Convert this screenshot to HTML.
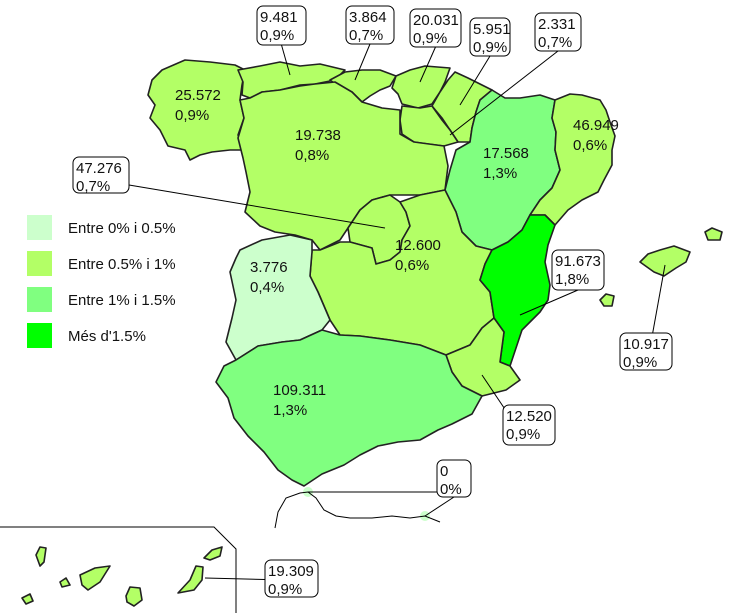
<!DOCTYPE html>
<html><head><meta charset="utf-8"><style>
body{margin:0;background:#fff;}
svg{display:block;font-family:"Liberation Sans",sans-serif;}
.r{stroke:#222;stroke-width:1.6;stroke-linejoin:round;}
.lab{font-size:15px;fill:#111;}
.box{fill:#fff;stroke:#000;stroke-width:1;}
.ld{stroke:#000;stroke-width:1;fill:none;}
</style></head><body>
<svg id="map" width="734" height="613" viewBox="0 0 734 613">
<g id="regions"></g>
<g id="extra"></g>
<g id="labels"></g>
<g id="legend"></g>
</svg>
<script>
const regionNames=["galicia","asturias","cantabria","pais-vasco","navarra","la-rioja","castilla-leon","aragon","catalunya","madrid","castilla-la-mancha","extremadura","valencia","murcia","andalucia","baleares","ceuta-melilla","canarias"];
const regionValues=["25.572","9.481","3.864","20.031","5.951","2.331","19.738","17.568","46.949","47.276","12.600","3.776","91.673","12.520","109.311","10.917","0","19.309"];
const regionPcts=[0.9,0.9,0.7,0.9,0.9,0.7,0.8,1.3,0.6,0.7,0.6,0.4,1.8,0.9,1.3,0.9,0,0.9];
const legendLabels=["Entre 0% i 0.5%","Entre 0.5% i 1%","Entre 1% i 1.5%","Més d'1.5%"];
const legendColors=["#ccffcc","#b3ff66","#80ff80","#00ff00"];
const legendBreaks=[0.5,1,1.5];

function colorFor(p){let i=0;while(i<legendBreaks.length&&p>legendBreaks[i])i++;return legendColors[i];}
const shapes={
"galicia":"148,95 152,80 162,70 185,60 210,62 235,65 245,70 242,85 240,100 244,118 238,135 245,150 230,150 212,152 200,155 190,160 185,150 168,146 160,130 150,118 155,105",
"asturias":"238,70 260,66 280,62 300,66 320,64 345,70 335,80 315,84 300,85 280,90 262,92 250,98 242,95 243,82",
"cantabria":"330,80 345,72 362,70 380,70 396,76 390,86 380,90 370,96 362,102 352,92 338,86",
"pais-vasco":"396,76 410,70 425,66 450,68 445,82 440,92 432,104 418,108 402,104 398,94 392,88",
"navarra":"440,92 448,80 455,72 468,78 480,84 492,90 480,100 476,112 472,128 470,142 458,142 450,130 442,118 432,106",
"la-rioja":"402,106 420,108 432,106 442,120 450,130 458,142 444,146 428,144 414,142 402,134 400,120",
"castilla-leon":"240,100 250,98 262,92 280,90 300,86 315,84 335,82 352,92 362,102 382,108 400,110 400,134 414,142 444,146 448,166 445,190 420,195 390,195 372,200 360,210 348,228 340,240 320,250 312,240 295,235 275,232 260,226 245,212 250,192 246,172 243,158 238,138 244,118",
"aragon":"480,100 492,90 505,98 520,98 540,95 555,100 552,118 556,132 555,150 560,170 552,188 540,200 530,215 522,230 508,242 492,250 476,246 462,232 456,212 445,190 450,170 456,150 470,142 472,128 476,112",
"catalunya":"555,100 570,94 582,95 600,100 606,110 610,122 615,136 612,150 612,165 604,180 598,192 582,200 568,210 555,225 545,215 530,215 540,200 552,188 560,170 555,150 556,132 552,118",
"madrid":"360,210 372,200 390,195 400,202 406,212 410,226 402,240 400,252 390,260 376,264 372,248 350,242 348,228",
"castilla-la-mancha":"312,250 320,250 340,242 350,242 372,248 376,264 390,260 400,252 402,240 410,226 406,212 400,202 420,195 445,190 456,212 462,232 476,246 492,250 485,264 480,280 490,292 494,318 482,328 470,345 446,355 420,345 390,340 360,336 340,335 330,320 318,292 310,276",
"extremadura":"240,250 262,240 290,235 312,240 312,252 310,276 318,292 330,320 322,330 300,340 282,342 258,346 236,360 226,342 232,318 236,300 230,272 236,258",
"valencia":"492,250 508,242 522,230 530,215 545,215 555,225 548,245 545,262 550,285 548,300 540,312 522,330 516,348 510,366 500,362 504,332 494,318 490,292 480,280 485,264",
"murcia":"446,355 470,345 482,328 494,318 504,332 500,362 510,366 520,380 506,390 482,396 462,386 452,372",
"andalucia":"224,366 236,360 258,346 282,342 300,340 322,330 340,335 360,336 390,340 420,345 446,355 452,372 462,386 482,396 472,414 452,424 438,430 420,440 398,442 378,446 360,455 344,465 322,474 304,486 292,480 278,470 264,452 248,436 234,418 228,398 216,382",
"baleares":"640,262 648,254 660,250 674,246 690,252 686,262 676,268 664,276 654,272 M705,232 712,228 722,232 720,240 708,240 M600,300 606,294 614,296 612,306 604,306",
"canarias":"36,555 40,547 46,548 44,562 40,566 M22,598 30,594 33,601 26,604 M60,582 66,578 70,585 62,587 M80,575 95,568 110,566 100,582 88,590 82,585 M126,596 130,587 140,588 142,600 134,606 127,602 M178,593 190,580 196,566 203,567 202,580 194,590 M204,558 212,550 222,547 220,556 210,560"
};
const labelPos={
"galicia":[175,100],"castilla-leon":[295,140],"aragon":[483,158],"catalunya":[573,130],"castilla-la-mancha":[395,250],"extremadura":[250,272],"andalucia":[273,395]};
const callouts={
"asturias":[257,6,49,39,290,75],"cantabria":[346,6,48,38,355,80],"pais-vasco":[410,9,51,38,420,82],"navarra":[470,18,40,38,460,105],"la-rioja":[535,13,46,38,450,135],
"madrid":[73,157,56,36,385,228],"valencia":[552,250,52,40,520,315],"baleares":[620,333,52,37,665,265],"murcia":[503,405,52,40,482,375],"ceuta-melilla":[437,460,34,37,308,492],"canarias":[265,560,53,37,205,578]};
const NS="http://www.w3.org/2000/svg";
function mk(t,a,p){const e=document.createElementNS(NS,t);for(const k in a)e.setAttribute(k,a[k]);p.appendChild(e);return e;}
const gR=document.getElementById('regions'),gE=document.getElementById('extra'),gL=document.getElementById('labels'),gG=document.getElementById('legend');
// Morocco coast & inset frame
let p1=mk('path',{d:"M275,528 L278,512 286,498 300,493 308,492 316,498 324,510 336,516 350,518 372,518 392,516 410,518 425,516 440,522",class:"ld","stroke-width":"1.6"},gE);


let p2=mk('path',{d:"M0,527 L214,527 L236,549 L236,613",class:"ld"},gE);


regionNames.forEach((n,i)=>{
  const c=colorFor(regionPcts[i]);
  if(n==="ceuta-melilla"){
    [[308,492],[425,516]].forEach(q=>{const e=mk('circle',{cx:q[0],cy:q[1],r:5,fill:c},gR);
      
      });
  } else {
    const d=shapes[n].split(' M').map(s=>'M'+s.replace(/^M/,'').trim().split(' ').join(' L')+'Z').join(' ');
    const e=mk('path',{d:d,fill:c,class:'r'},gR);
    
    
  }
  const txt=[regionValues[i],(regionPcts[i]+'').replace('.',',')+'%'];
  if(labelPos[n]){
    const [x,y]=labelPos[n];
    const t=mk('text',{x:x,y:y,class:'lab'},gL);t.textContent=txt[0];
    
    
    const t2=mk('text',{x:x,y:y+20,class:'lab'},gL);t2.textContent=txt[1];
    
    
  } else if(callouts[n]){
    const [bx,by,bw,bh,px,py]=callouts[n];
    const l=mk('line',{x1:bx+bw/2,y1:by+bh,x2:px,y2:py,class:'ld'},gL);
    if(n==='ceuta-melilla'){l.setAttribute('x1',bx);l.setAttribute('y1',by+bh-5);mk('line',{x1:bx+bw/2,y1:by+bh,x2:425,y2:516,class:'ld'},gL);}
    if(n==='canarias'||n==='madrid'){l.setAttribute('x1',n==='madrid'?bx+bw:bx);l.setAttribute('y1',n==='madrid'?by+bh-8:by+bh/2+1);}
    
    
    const r=mk('rect',{x:bx,y:by,width:bw,height:bh,rx:6,class:'box'},gL);
    
    
    const t=mk('text',{x:bx+3,y:by+16,class:'lab'},gL);t.textContent=txt[0];
    
    
    const t2=mk('text',{x:bx+3,y:by+34,class:'lab'},gL);t2.textContent=txt[1];
    
    
  }
});
legendLabels.forEach((s,i)=>{
  const y=215+i*36;
  const r=mk('rect',{x:27,y:y,width:25,height:25,fill:legendColors[i]},gG);
  
  
  const t=mk('text',{x:68,y:y+18,class:'lab','font-size':'14px'},gG);t.textContent=s;
  
  
});
</script>
</body></html>
